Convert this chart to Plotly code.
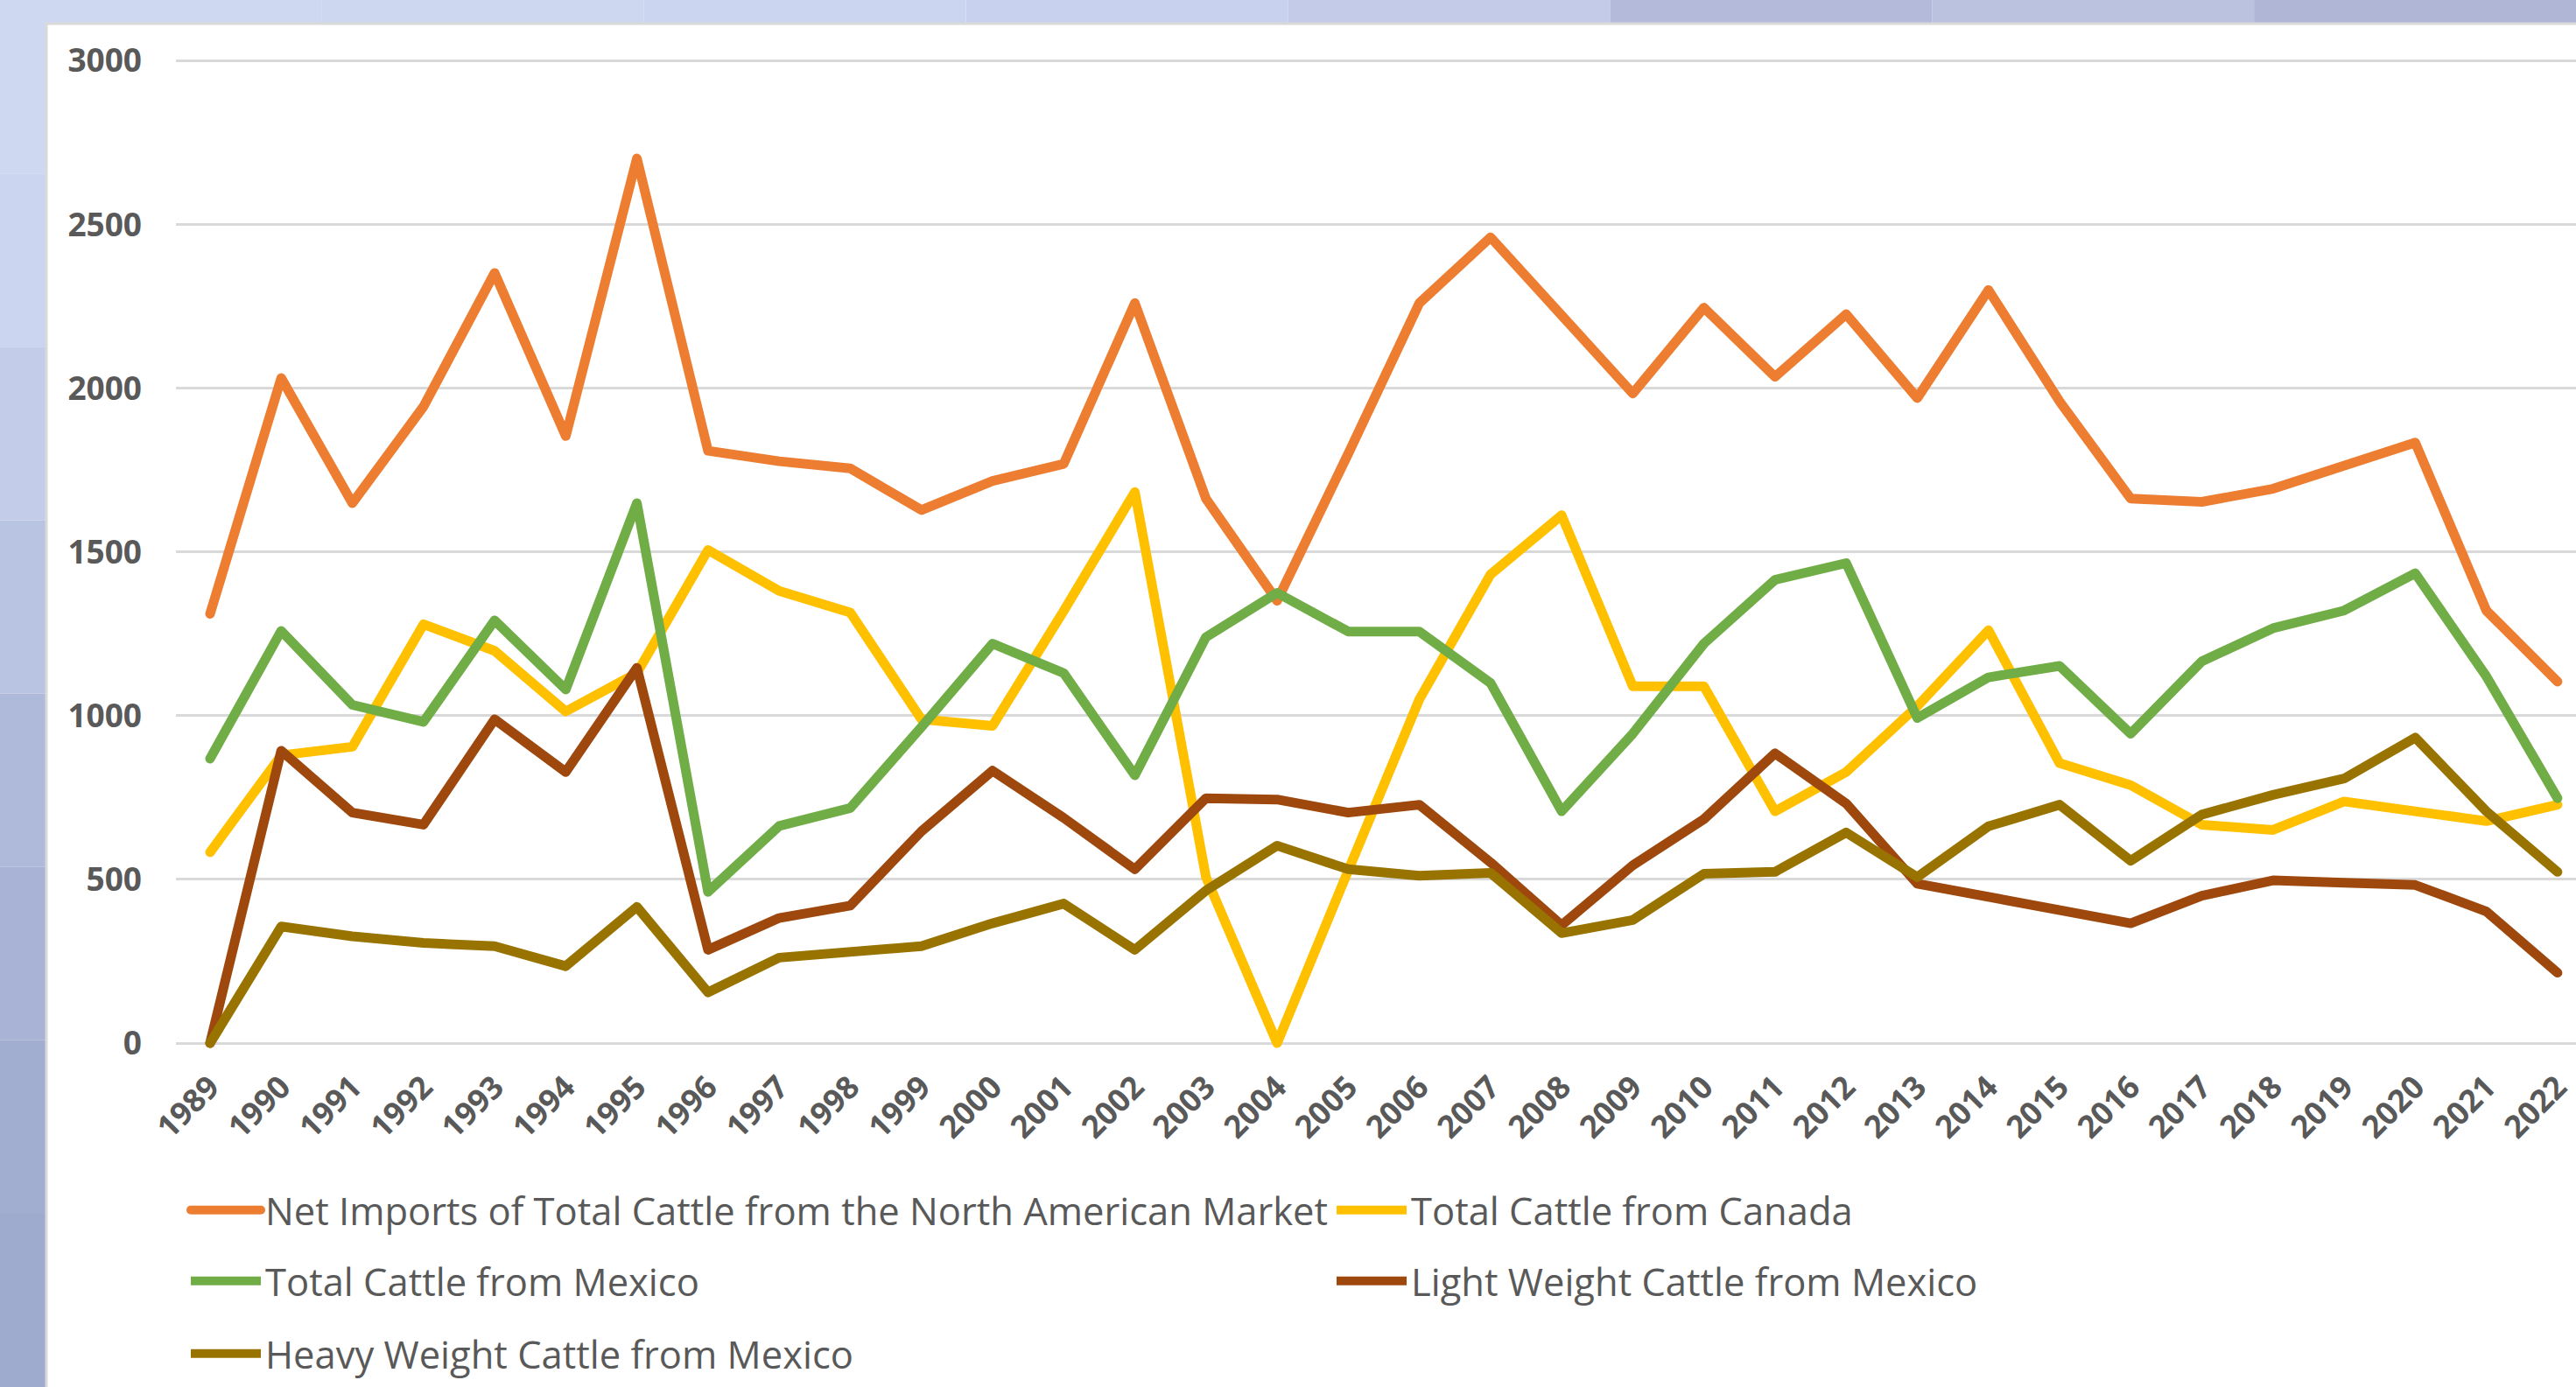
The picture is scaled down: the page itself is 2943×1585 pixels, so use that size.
import plotly.graph_objects as go

years = list(range(1989, 2023))
net_imports = [1311, 2031, 1649, 1944, 2352, 1854, 2702, 1809, 1777, 1755, 1628, 1717, 1769, 2260, 1663, 1351, 1800,
               2260, 2461, 2222, 1984, 2246, 2035, 2226, 1970, 2300, 1960, 1663, 1653, 1693, 1763, 1834, 1321, 1104]
canada = [583, 879, 905, 1279, 1198, 1013, 1130, 1506, 1381, 1315, 989, 969, 1320, 1683, 507, 0, 527,
          1050, 1431, 1612, 1090, 1090, 708, 828, 1029, 1261, 855, 788, 667, 651, 738, 708, 678, 728]
mexico = [869, 1259, 1033, 981, 1291, 1080, 1649, 462, 663, 718, 965, 1220, 1130, 818, 1240, 1375, 1257,
          1257, 1100, 708, 945, 1220, 1415, 1466, 993, 1117, 1152, 945, 1166, 1267, 1321, 1435, 1120, 748]
light = [0, 893, 704, 667, 989, 828, 1146, 285, 382, 420, 647, 832, 688, 531, 748, 744, 704,
         728, 552, 360, 543, 684, 885, 732, 487, 446, 406, 366, 450, 497, 490, 483, 402, 215]
heavy = [0, 356, 326, 306, 296, 235, 416, 155, 261, 275, 296, 366, 426, 285, 466, 603, 531,
         511, 520, 336, 376, 517, 523, 643, 507, 662, 728, 557, 698, 758, 808, 933, 708, 523]

series_names = [
    "Net Imports of Total Cattle from the North American Market",
    "Total Cattle from Canada",
    "Total Cattle from Mexico",
    "Light Weight Cattle from Mexico",
    "Heavy Weight Cattle from Mexico",
]
series_values = [net_imports, canada, mexico, light, heavy]
colors = ["#ED7D31", "#FFC000", "#70AD47", "#9E480E", "#997300"]
legend_ids = ["legend", "legend2", "legend3", "legend4", "legend5"]

W, H = 2943, 1585
ML, MT, MB = 201, 62, 378

fig = go.Figure()
for name, vals, col, lg in zip(series_names, series_values, colors, legend_ids):
    fig.add_trace(go.Scatter(x=years, y=vals, name=name, mode="lines",
                             line=dict(color=col, width=11), legend=lg, showlegend=True))

TXT = "#595959"
leg_font = dict(family="Open Sans", size=43.5, color=TXT)
# legend positions (pixels): (x of symbol start, y centre)
leg_pos = [(221, 1383), (1530, 1383), (221, 1464), (1530, 1464), (221, 1547)]
legends = {}
for lg, (px, py) in zip(legend_ids, leg_pos):
    legends[lg] = dict(x=(px - 8) / W, y=1 - py / H, xref="container", yref="container",
                       xanchor="left", yanchor="middle", orientation="v",
                       font=leg_font, bgcolor="rgba(0,0,0,0)", itemwidth=80, visible=True)

# background strips (blue frame around the white chart area)
pw = W - ML
ph = H - MT - MB
def px2x(p):
    return (p - ML) / pw
def py2y(p):
    return (H - MB - p) / ph

shapes = []
left_cols = ["#CED8F1", "#CBD5EF", "#C3CDEA", "#B9C3E2", "#AFB9DA", "#A8B3D5", "#A2AED0", "#9FABCE"]
n = len(left_cols)
for i, c in enumerate(left_cols):
    shapes.append(dict(type="rect", xref="paper", yref="paper", layer="below",
                       x0=px2x(0), x1=px2x(53), y0=py2y(H * i / n), y1=py2y(H * (i + 1) / n),
                       fillcolor=c, line=dict(width=0)))
top_cols = ["#CED8F1", "#CDD7F0", "#CBD5EF", "#C8D1EE", "#C3CBE9", "#B4BAD9", "#BBC2E0", "#B0B6D6"]
n = len(top_cols)
for i, c in enumerate(top_cols):
    shapes.append(dict(type="rect", xref="paper", yref="paper", layer="below",
                       x0=px2x(W * i / n), x1=px2x(W * (i + 1) / n), y0=py2y(0), y1=py2y(27),
                       fillcolor=c, line=dict(width=0)))
shapes.append(dict(type="path", xref="paper", yref="paper", layer="below",
                   path=f"M{px2x(53)},{py2y(H)} L{px2x(53)},{py2y(27)} L{px2x(W)},{py2y(27)}",
                   line=dict(color="#D9D9D9", width=3)))

fig.update_layout(
    width=W, height=H,
    margin=dict(l=ML, r=0, t=MT, b=MB, autoexpand=False),
    paper_bgcolor="white", plot_bgcolor="white",
    showlegend=True,
    shapes=shapes,
    **legends,
    xaxis=dict(range=[1988.52, 2022.26], tickvals=years, ticktext=[str(y) for y in years],
               tickangle=-45, showgrid=False, zeroline=False, showline=False, ticks="",
               tickfont=dict(family="Open Sans", size=36, color=TXT, weight="bold"),
               ticklabelstandoff=6),
    yaxis=dict(range=[-40, 3020], tickvals=[0, 500, 1000, 1500, 2000, 2500, 3000],
               showgrid=True, gridcolor="#D9D9D9", gridwidth=3, zeroline=False,
               showline=False, ticks="", ticklabelstandoff=38,
               tickfont=dict(family="Open Sans", size=37, color=TXT, weight="bold")),
)

post = """
document.body.style.margin='0'; document.body.style.overflow='hidden';
document.documentElement.style.overflow='hidden';
document.querySelectorAll('.scatterlayer path.js-line, .legend path.js-line').forEach(function(p){
  p.style.strokeLinejoin='round'; p.style.strokeLinecap='round';
});
"""
fig.write_html("out.html", post_script=post, config={"displayModeBar": False})
